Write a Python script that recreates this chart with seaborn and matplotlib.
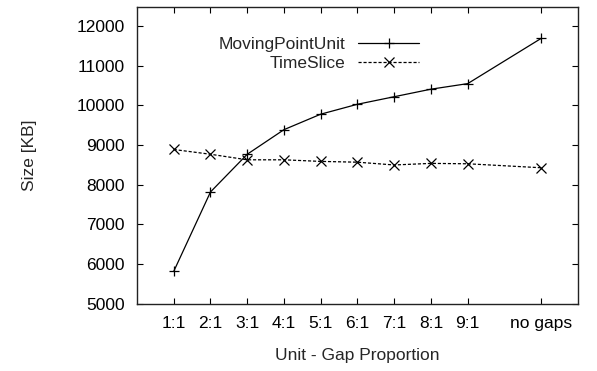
import numpy as np
import pandas as pd
import seaborn as sns
import matplotlib
matplotlib.use('Agg')
import matplotlib.pyplot as plt

# data
proportions = ['1:1', '2:1', '3:1', '4:1', '5:1', '6:1', '7:1', '8:1', '9:1', 'no gaps']
positions = [1, 2, 3, 4, 5, 6, 7, 8, 9, 11]
moving_point_unit = [5820, 7820, 8770, 9390, 9780, 10030, 10220, 10410, 10550, 11690]
time_slice = [8890, 8770, 8630, 8630, 8590, 8570, 8500, 8540, 8530, 8430]

df = pd.DataFrame({
    'pos': positions * 2,
    'size': moving_point_unit + time_slice,
    'series': ['MovingPointUnit'] * len(positions) + ['TimeSlice'] * len(positions),
})

sns.set_style('ticks')
plt.rcParams['font.family'] = ['Liberation Sans', 'DejaVu Sans']
fs = 12.5

fig = plt.figure(figsize=(5.97, 3.71), dpi=100)
ax = fig.add_axes([0.2295, 0.181, 0.7385, 0.800])

sns.lineplot(data=df, x='pos', y='size', style='series', ax=ax,
             markers={'MovingPointUnit': '+', 'TimeSlice': 'x'},
             dashes={'MovingPointUnit': '', 'TimeSlice': (2.5, 1.5)},
             color='black', linewidth=0.9, markersize=7,
             markeredgewidth=0.9, markeredgecolor='black')

ax.set_xlim(0, 12)
ax.set_ylim(5000, 12480)
ax.set_xticks(positions)
ax.set_xticklabels(proportions)
ax.set_yticks(range(5000, 12001, 1000))
ax.tick_params(direction='in', top=True, right=True, length=4.5, width=0.8,
               labelsize=fs, colors='black')
ax.tick_params(axis='x', pad=9)
ax.tick_params(axis='y', pad=9)
for s in ax.spines.values():
    s.set_linewidth(1.0)
    s.set_color('#222222')

ax.set_xlabel('Unit - Gap Proportion', fontsize=fs, labelpad=12)
ax.set_ylabel('Size [KB]', fontsize=fs, labelpad=28)

leg = ax.legend(loc='upper right', bbox_to_anchor=(0.64, 0.90), frameon=False,
                markerfirst=False, handlelength=3.5, handletextpad=0.75,
                labelspacing=0.25, fontsize=fs, borderpad=0, borderaxespad=0,
                title=None)
for h in leg.legend_handles:
    h.set_markeredgecolor('black')

fig.savefig('out.png', dpi=100)
